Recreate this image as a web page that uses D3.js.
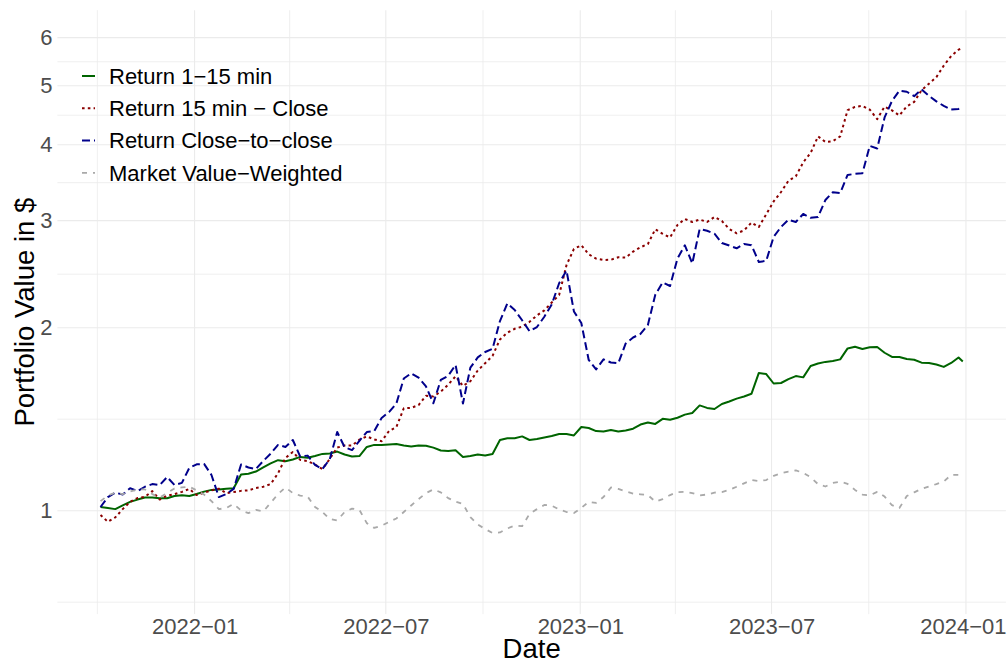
<!DOCTYPE html>
<html>
<head>
<meta charset="utf-8">
<script src="https://cdnjs.cloudflare.com/ajax/libs/d3/7.8.5/d3.min.js"></script>
<style>
  body { margin: 0; background: #fff; }
  svg text { font-family: "Liberation Sans", Arial, sans-serif; }
</style>
</head>
<body>
<div id="chart"></div>
<script>
// Weekly observation dates
var dates = [
  "2021-10-04","2021-10-11","2021-10-18","2021-10-25","2021-11-01","2021-11-08","2021-11-15","2021-11-22","2021-11-29","2021-12-06",
  "2021-12-13","2021-12-20","2021-12-27","2022-01-03","2022-01-10","2022-01-17","2022-01-24","2022-01-31","2022-02-07","2022-02-14",
  "2022-02-21","2022-02-28","2022-03-07","2022-03-14","2022-03-21","2022-03-28","2022-04-04","2022-04-11","2022-04-18","2022-04-25",
  "2022-05-02","2022-05-09","2022-05-16","2022-05-23","2022-05-30","2022-06-06","2022-06-13","2022-06-20","2022-06-27","2022-07-04",
  "2022-07-11","2022-07-18","2022-07-25","2022-08-01","2022-08-08","2022-08-15","2022-08-22","2022-08-29","2022-09-05","2022-09-12",
  "2022-09-19","2022-09-26","2022-10-03","2022-10-10","2022-10-17","2022-10-24","2022-10-31","2022-11-07","2022-11-14","2022-11-21",
  "2022-11-28","2022-12-05","2022-12-12","2022-12-19","2022-12-26","2023-01-02","2023-01-09","2023-01-16","2023-01-23","2023-01-30",
  "2023-02-06","2023-02-13","2023-02-20","2023-02-27","2023-03-06","2023-03-13","2023-03-20","2023-03-27","2023-04-03","2023-04-10",
  "2023-04-17","2023-04-24","2023-05-01","2023-05-08","2023-05-15","2023-05-22","2023-05-29","2023-06-05","2023-06-12","2023-06-19",
  "2023-06-26","2023-07-03","2023-07-10","2023-07-17","2023-07-24","2023-07-31","2023-08-07","2023-08-14","2023-08-21","2023-08-28",
  "2023-09-04","2023-09-11","2023-09-18","2023-09-25","2023-10-02","2023-10-09","2023-10-16","2023-10-23","2023-10-30","2023-11-06",
  "2023-11-13","2023-11-20","2023-11-27","2023-12-04","2023-12-11","2023-12-18","2023-12-25","2023-12-29"
];

// Portfolio values, one array per strategy
var ret1to15 = [
  1.014,1.010,1.006,1.020,1.034,1.043,1.051,1.051,1.048,1.048,
  1.057,1.060,1.057,1.065,1.075,1.082,1.084,1.087,1.089,1.147,
  1.150,1.160,1.178,1.196,1.211,1.206,1.214,1.226,1.222,1.230,
  1.240,1.242,1.251,1.237,1.228,1.230,1.273,1.283,1.283,1.285,
  1.287,1.280,1.275,1.280,1.279,1.270,1.256,1.254,1.257,1.226,
  1.230,1.237,1.233,1.240,1.307,1.316,1.316,1.325,1.307,1.312,
  1.320,1.327,1.337,1.337,1.330,1.373,1.368,1.352,1.350,1.358,
  1.350,1.355,1.364,1.386,1.397,1.389,1.416,1.411,1.422,1.439,
  1.448,1.490,1.476,1.470,1.498,1.512,1.529,1.541,1.557,1.685,
  1.678,1.619,1.622,1.646,1.665,1.657,1.730,1.746,1.757,1.763,
  1.774,1.849,1.861,1.845,1.857,1.859,1.819,1.790,1.790,1.776,
  1.771,1.752,1.750,1.740,1.724,1.750,1.787,1.760
];
var ret15toClose = [
  0.984,0.959,0.975,1.006,1.034,1.049,1.054,1.077,1.043,1.058,
  1.065,1.074,1.086,1.061,1.071,1.080,1.087,1.069,1.073,1.078,
  1.080,1.090,1.095,1.106,1.152,1.221,1.249,1.212,1.207,1.191,
  1.171,1.217,1.270,1.280,1.280,1.309,1.325,1.310,1.301,1.352,
  1.373,1.474,1.476,1.492,1.545,1.541,1.570,1.612,1.664,1.604,
  1.633,1.701,1.748,1.798,1.913,1.963,1.992,2.008,2.045,2.095,
  2.135,2.200,2.264,2.536,2.695,2.733,2.641,2.598,2.585,2.587,
  2.611,2.608,2.668,2.712,2.746,2.904,2.854,2.815,2.951,3.019,
  2.985,3.013,2.985,3.042,2.996,2.907,2.860,2.891,2.978,2.929,
  3.072,3.226,3.344,3.489,3.549,3.741,3.877,4.128,4.041,4.054,
  4.127,4.559,4.615,4.634,4.567,4.407,4.620,4.555,4.468,4.624,
  4.705,4.918,5.040,5.166,5.396,5.596,5.733,5.770
];
var retCloseToClose = [
  1.014,1.053,1.071,1.063,1.089,1.077,1.095,1.106,1.102,1.136,
  1.102,1.111,1.176,1.192,1.194,1.145,1.053,1.065,1.086,1.191,
  1.178,1.171,1.207,1.241,1.283,1.273,1.307,1.227,1.232,1.189,
  1.171,1.216,1.347,1.272,1.258,1.303,1.347,1.352,1.421,1.453,
  1.501,1.650,1.683,1.655,1.601,1.502,1.641,1.667,1.737,1.501,
  1.719,1.787,1.824,1.847,2.051,2.192,2.139,2.057,1.973,2.005,
  2.085,2.184,2.367,2.484,2.127,2.036,1.770,1.708,1.774,1.753,
  1.748,1.884,1.927,1.954,2.021,2.266,2.374,2.342,2.599,2.733,
  2.551,2.907,2.887,2.855,2.757,2.730,2.702,2.747,2.734,2.565,
  2.577,2.821,2.929,3.010,2.985,3.077,3.032,3.043,3.244,3.341,
  3.331,3.567,3.582,3.590,3.982,3.943,4.435,4.721,4.908,4.888,
  4.807,4.932,4.814,4.713,4.634,4.569,4.579,4.597
];
var marketVW = [
  1.037,1.059,1.071,1.065,1.075,1.084,1.084,1.065,1.051,1.069,
  1.088,1.092,1.095,1.080,1.063,1.037,1.006,1.010,1.026,1.001,
  0.991,1.003,0.997,1.030,1.065,1.092,1.069,1.059,1.055,1.014,
  0.995,0.969,0.964,0.995,1.008,1.003,0.954,0.937,0.945,0.958,
  0.971,0.995,1.020,1.045,1.069,1.084,1.072,1.049,1.035,1.026,
  0.976,0.949,0.933,0.919,0.921,0.935,0.945,0.943,0.988,1.006,
  1.022,1.019,1.005,0.995,0.991,1.011,1.034,1.030,1.053,1.092,
  1.086,1.076,1.067,1.064,1.061,1.035,1.045,1.061,1.073,1.074,
  1.069,1.060,1.063,1.071,1.073,1.082,1.095,1.109,1.123,1.119,
  1.123,1.141,1.153,1.160,1.165,1.154,1.135,1.106,1.096,1.111,
  1.116,1.107,1.082,1.063,1.060,1.074,1.055,1.021,1.010,1.057,
  1.072,1.086,1.096,1.106,1.117,1.145,1.145,1.145
];

// Legend labels and axis ticks
var seriesNames = ["Return 1\u221215 min", "Return 15 min \u2212 Close", "Return Close\u2212to\u2212close", "Market Value\u2212Weighted"];
var yTicks = [1, 2, 3, 4, 5, 6];
var yMinor = [0.7071, 1.4142, 2.4495, 3.4641, 4.4721, 5.4772];
var xTicks = ["2022-01-01", "2022-07-01", "2023-01-01", "2023-07-01", "2024-01-01"];
var xMinor = ["2021-10-01", "2022-04-01", "2022-10-01", "2023-04-01", "2023-10-01"];
var yLimits = [0.75, 6];

// SVG area and panel margins
var svgWidth = 1008;
var svgHeight = 663;
var margin = { top: 10.2, right: 2.1, bottom: 48.9, left: 57.4 };
var chartWidth = svgWidth - margin.left - margin.right;
var chartHeight = svgHeight - margin.top - margin.bottom;

var parseDate = d3.utcParse("%Y-%m-%d");
var fmt = d3.utcFormat("%Y\u2212%m");

var svg = d3.select("#chart")
  .append("svg")
  .attr("width", svgWidth)
  .attr("height", svgHeight);

var chartGroup = svg.append("g")
  .attr("transform", `translate(${margin.left}, ${margin.top})`);

// x scale: data extent expanded by 5% each side
var xExt = d3.extent(dates, parseDate);
var xPad = (xExt[1] - xExt[0]) * 0.05;
var xScale = d3.scaleUtc()
  .domain([new Date(+xExt[0] - xPad), new Date(+xExt[1] + xPad)])
  .range([0, chartWidth]);

// y log scale: limits expanded by 5% in log space
var lg = yLimits.map(Math.log);
var lgPad = (lg[1] - lg[0]) * 0.05;
var yScale = d3.scaleLog()
  .domain([Math.exp(lg[0] - lgPad), Math.exp(lg[1] + lgPad)])
  .range([chartHeight, 0]);

// gridlines
var grid = chartGroup.append("g");
grid.selectAll(".ymin").data(yMinor).enter().append("line")
  .attr("x1", 0).attr("x2", chartWidth)
  .attr("y1", d => yScale(d)).attr("y2", d => yScale(d))
  .attr("stroke", "#EBEBEB").attr("stroke-width", 0.8);
grid.selectAll(".xmin").data(xMinor).enter().append("line")
  .attr("y1", 0).attr("y2", chartHeight)
  .attr("x1", d => xScale(parseDate(d))).attr("x2", d => xScale(parseDate(d)))
  .attr("stroke", "#EBEBEB").attr("stroke-width", 0.8);
grid.selectAll(".ymaj").data(yTicks).enter().append("line")
  .attr("x1", 0).attr("x2", chartWidth)
  .attr("y1", d => yScale(d)).attr("y2", d => yScale(d))
  .attr("stroke", "#EBEBEB").attr("stroke-width", 1.1);
grid.selectAll(".xmaj").data(xTicks).enter().append("line")
  .attr("y1", 0).attr("y2", chartHeight)
  .attr("x1", d => xScale(parseDate(d))).attr("x2", d => xScale(parseDate(d)))
  .attr("stroke", "#EBEBEB").attr("stroke-width", 1.1);

// axes built with d3 axis, then stripped to labels only
var leftAxis = d3.axisLeft(yScale).tickValues(yTicks).tickFormat(d3.format("d")).tickSize(0).tickPadding(5);
var bottomAxis = d3.axisBottom(xScale).tickValues(xTicks.map(parseDate)).tickFormat(fmt).tickSize(0).tickPadding(4);

var yAxisG = chartGroup.append("g").call(leftAxis);
var xAxisG = chartGroup.append("g").attr("transform", `translate(0, ${chartHeight})`).call(bottomAxis);
[yAxisG, xAxisG].forEach(function(g) {
  g.select(".domain").remove();
  g.selectAll("text")
    .attr("font-family", "Liberation Sans, Arial, sans-serif")
    .attr("font-size", 22)
    .attr("fill", "#4D4D4D");
});

// keep the last date label inside the page edge
var lastTick = parseDate(xTicks[xTicks.length - 1]);
xAxisG.selectAll(".tick text")
  .filter(d => +d === +lastTick)
  .attr("text-anchor", "end")
  .attr("x", chartWidth + margin.right - 2 - xScale(lastTick));

// series lines
var series = [
  { name: seriesNames[0], values: ret1to15, color: "#006400", dash: null, width: 2 },
  { name: seriesNames[1], values: ret15toClose, color: "#8B0000", dash: "2.6,3.2", width: 2 },
  { name: seriesNames[2], values: retCloseToClose, color: "#00008B", dash: "8,4", width: 2 },
  { name: seriesNames[3], values: marketVW, color: "#A9A9A9", dash: "5,6", width: 1.8 }
];

var drawLine = d3.line()
  .x((d, i) => xScale(parseDate(dates[i])))
  .y(d => yScale(d));

series.forEach(function(s) {
  chartGroup.append("path")
    .attr("d", drawLine(s.values))
    .attr("fill", "none")
    .attr("stroke", s.color)
    .attr("stroke-width", s.width)
    .attr("stroke-dasharray", s.dash)
    .attr("stroke-linejoin", "round");
});

// legend inside the panel, top left
var legend = svg.append("g").attr("transform", "translate(82, 76)");
series.forEach(function(s, i) {
  var row = legend.append("g").attr("transform", `translate(0, ${i * 32.3})`);
  row.append("line")
    .attr("x1", 0).attr("x2", 13).attr("y1", 0).attr("y2", 0)
    .attr("stroke", s.color)
    .attr("stroke-width", s.width)
    .attr("stroke-dasharray", s.dash);
  row.append("text")
    .attr("x", 27).attr("y", 0).attr("dy", "0.35em")
    .attr("font-size", 22)
    .attr("fill", "#000")
    .text(s.name);
});

// axis titles
svg.append("text")
  .attr("x", margin.left + chartWidth / 2)
  .attr("y", 658)
  .attr("text-anchor", "middle")
  .attr("font-size", 27.5)
  .attr("fill", "#000")
  .text("Date");

svg.append("text")
  .attr("transform", `translate(34, ${margin.top + chartHeight / 2}) rotate(-90)`)
  .attr("text-anchor", "middle")
  .attr("font-size", 27.5)
  .attr("fill", "#000")
  .text("Portfolio Value in $");
</script>
</body>
</html>
